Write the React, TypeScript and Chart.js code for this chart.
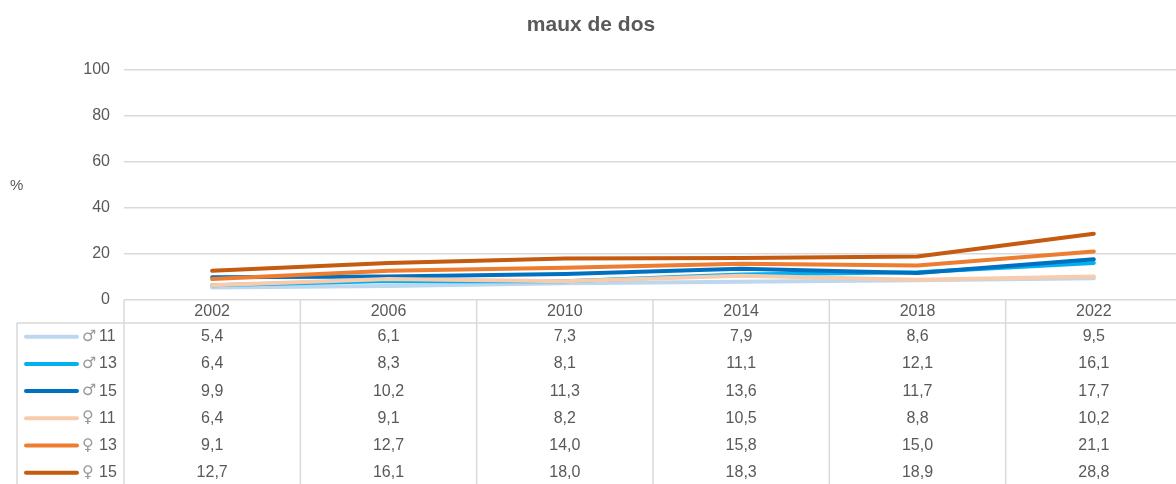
import React, { useEffect, useRef } from "react";
import { Chart, registerables } from "chart.js";

Chart.register(...registerables);

const TITLE = "maux de dos";
const YEARS = ["2002", "2006", "2010", "2014", "2018", "2022"];
const SERIES_SYMBOLS = ["♂", "♂", "♂", "♀", "♀", "♀"];
const SERIES_AGES = ["11", "13", "15", "11", "13", "15"];
const SERIES_COLORS = ["#BDD7EE", "#00B0F0", "#0070C0", "#F8CBAD", "#ED7D31", "#C55A11"];
const M11 = [5.4, 6.1, 7.3, 7.9, 8.6, 9.5];
const M13 = [6.4, 8.3, 8.1, 11.1, 12.1, 16.1];
const M15 = [9.9, 10.2, 11.3, 13.6, 11.7, 17.7];
const F11 = [6.4, 9.1, 8.2, 10.5, 8.8, 10.2];
const F13 = [9.1, 12.7, 14.0, 15.8, 15.0, 21.1];
const F15 = [12.7, 16.1, 18.0, 18.3, 18.9, 28.8];
const SERIES = [M11, M13, M15, F11, F13, F15];
const Y_TICKS = [0, 20, 40, 60, 80, 100];

const TEXT = "#595959";
const GRID = "#d9d9d9";
const FONT = "'Liberation Sans', Arial, 'DejaVu Sans', sans-serif";
const SYM_FONT = "'DejaVu Sans', sans-serif";

const fmt = (v: number) => v.toFixed(1).replace(".", ",");

export default function App() {
  const ref = useRef<HTMLCanvasElement | null>(null);

  useEffect(() => {
    if (!ref.current) return;

    const tablePlugin = {
      id: "tablePlugin",
      afterDraw(chart: any) {
        const ctx = chart.ctx;
        const xs = chart.scales.x;
        const area = chart.chartArea;
        const n = YEARS.length;
        const colW = (area.right - area.left) / n;
        const top = area.bottom;
        const headerBottom = top + 23;
        const rowH = 27.2;
        const firstRow = headerBottom + 13.7;
        const tableLeft = 17;
        const bottom = chart.height;

        ctx.save();
        // title
        ctx.fillStyle = TEXT;
        ctx.font = `bold 21px ${FONT}`;
        ctx.textAlign = "center";
        ctx.textBaseline = "middle";
        ctx.fillText(TITLE, 591, 25);
        // % label
        ctx.font = `15px ${FONT}`;
        ctx.textAlign = "left";
        ctx.fillText("%", 10, 186);

        // table lines
        ctx.strokeStyle = GRID;
        ctx.lineWidth = 1.5;
        ctx.beginPath();
        ctx.moveTo(tableLeft, headerBottom);
        ctx.lineTo(area.right + 10, headerBottom);
        ctx.moveTo(tableLeft, headerBottom);
        ctx.lineTo(tableLeft, bottom);
        for (let i = 0; i <= n; i++) {
          const x = area.left + i * colW;
          ctx.moveTo(x, top);
          ctx.lineTo(x, bottom);
        }
        ctx.stroke();

        // header
        ctx.fillStyle = TEXT;
        ctx.font = `16px ${FONT}`;
        ctx.textAlign = "center";
        ctx.textBaseline = "middle";
        YEARS.forEach((y, i) => {
          ctx.fillText(y, xs.getPixelForValue(i), top + 12);
        });

        // rows
        SERIES.forEach((vals, r) => {
          const cy = firstRow + r * rowH;
          ctx.strokeStyle = SERIES_COLORS[r];
          ctx.lineWidth = 4;
          ctx.lineCap = "round";
          ctx.beginPath();
          ctx.moveTo(26, cy);
          ctx.lineTo(77, cy);
          ctx.stroke();
          ctx.textAlign = "left";
          ctx.fillStyle = "#9a9a9a";
          ctx.font = `16px ${SYM_FONT}`;
          ctx.fillText(SERIES_SYMBOLS[r], 82, cy);
          ctx.fillStyle = TEXT;
          ctx.font = `16px ${FONT}`;
          ctx.fillText(SERIES_AGES[r], 99, cy);
          ctx.textAlign = "center";
          vals.forEach((v, i) => {
            ctx.fillText(fmt(v), xs.getPixelForValue(i), cy);
          });
        });
        ctx.restore();
      },
    };

    const chart = new Chart(ref.current, {
      type: "line",
      data: {
        labels: YEARS,
        datasets: SERIES.map((vals, i) => ({
          label: SERIES_SYMBOLS[i] + " " + SERIES_AGES[i],
          data: vals,
          borderColor: SERIES_COLORS[i],
          backgroundColor: SERIES_COLORS[i],
          borderWidth: 4,
          borderCapStyle: "round" as const,
          borderJoinStyle: "round" as const,
          pointRadius: 0,
          tension: 0,
          order: SERIES.length - 1 - i,
        })),
      },
      options: {
        responsive: false,
        animation: false,
        layout: { padding: { top: 70, bottom: 184, left: 0, right: 8 } },
        plugins: {
          legend: { display: false },
          title: { display: false },
          tooltip: { enabled: false },
        },
        scales: {
          x: {
            type: "category",
            offset: true,
            grid: { display: false, offset: true },
            border: { display: false },
            ticks: { display: false },
            afterFit: (s: any) => {
              s.height = 0;
            },
          },
          y: {
            min: 0,
            max: 100,
            afterBuildTicks: (s: any) => {
              s.ticks = Y_TICKS.map((v) => ({ value: v }));
            },
            grid: { color: GRID, lineWidth: 1.5, drawTicks: false },
            border: { display: false },
            ticks: {
              color: TEXT,
              font: { family: FONT, size: 16 },
              padding: 14,
            },
            afterFit: (s: any) => {
              s.width = 124;
            },
          },
        },
      },
      plugins: [tablePlugin],
    });
    return () => chart.destroy();
  }, []);

  return (
    <div
      style={{
        position: "fixed",
        left: 0,
        top: 0,
        width: 1176,
        height: 484,
        overflow: "hidden",
        background: "#fff",
      }}
    >
      <canvas ref={ref} width={1190} height={484} style={{ display: "block" }} />
    </div>
  );
}
